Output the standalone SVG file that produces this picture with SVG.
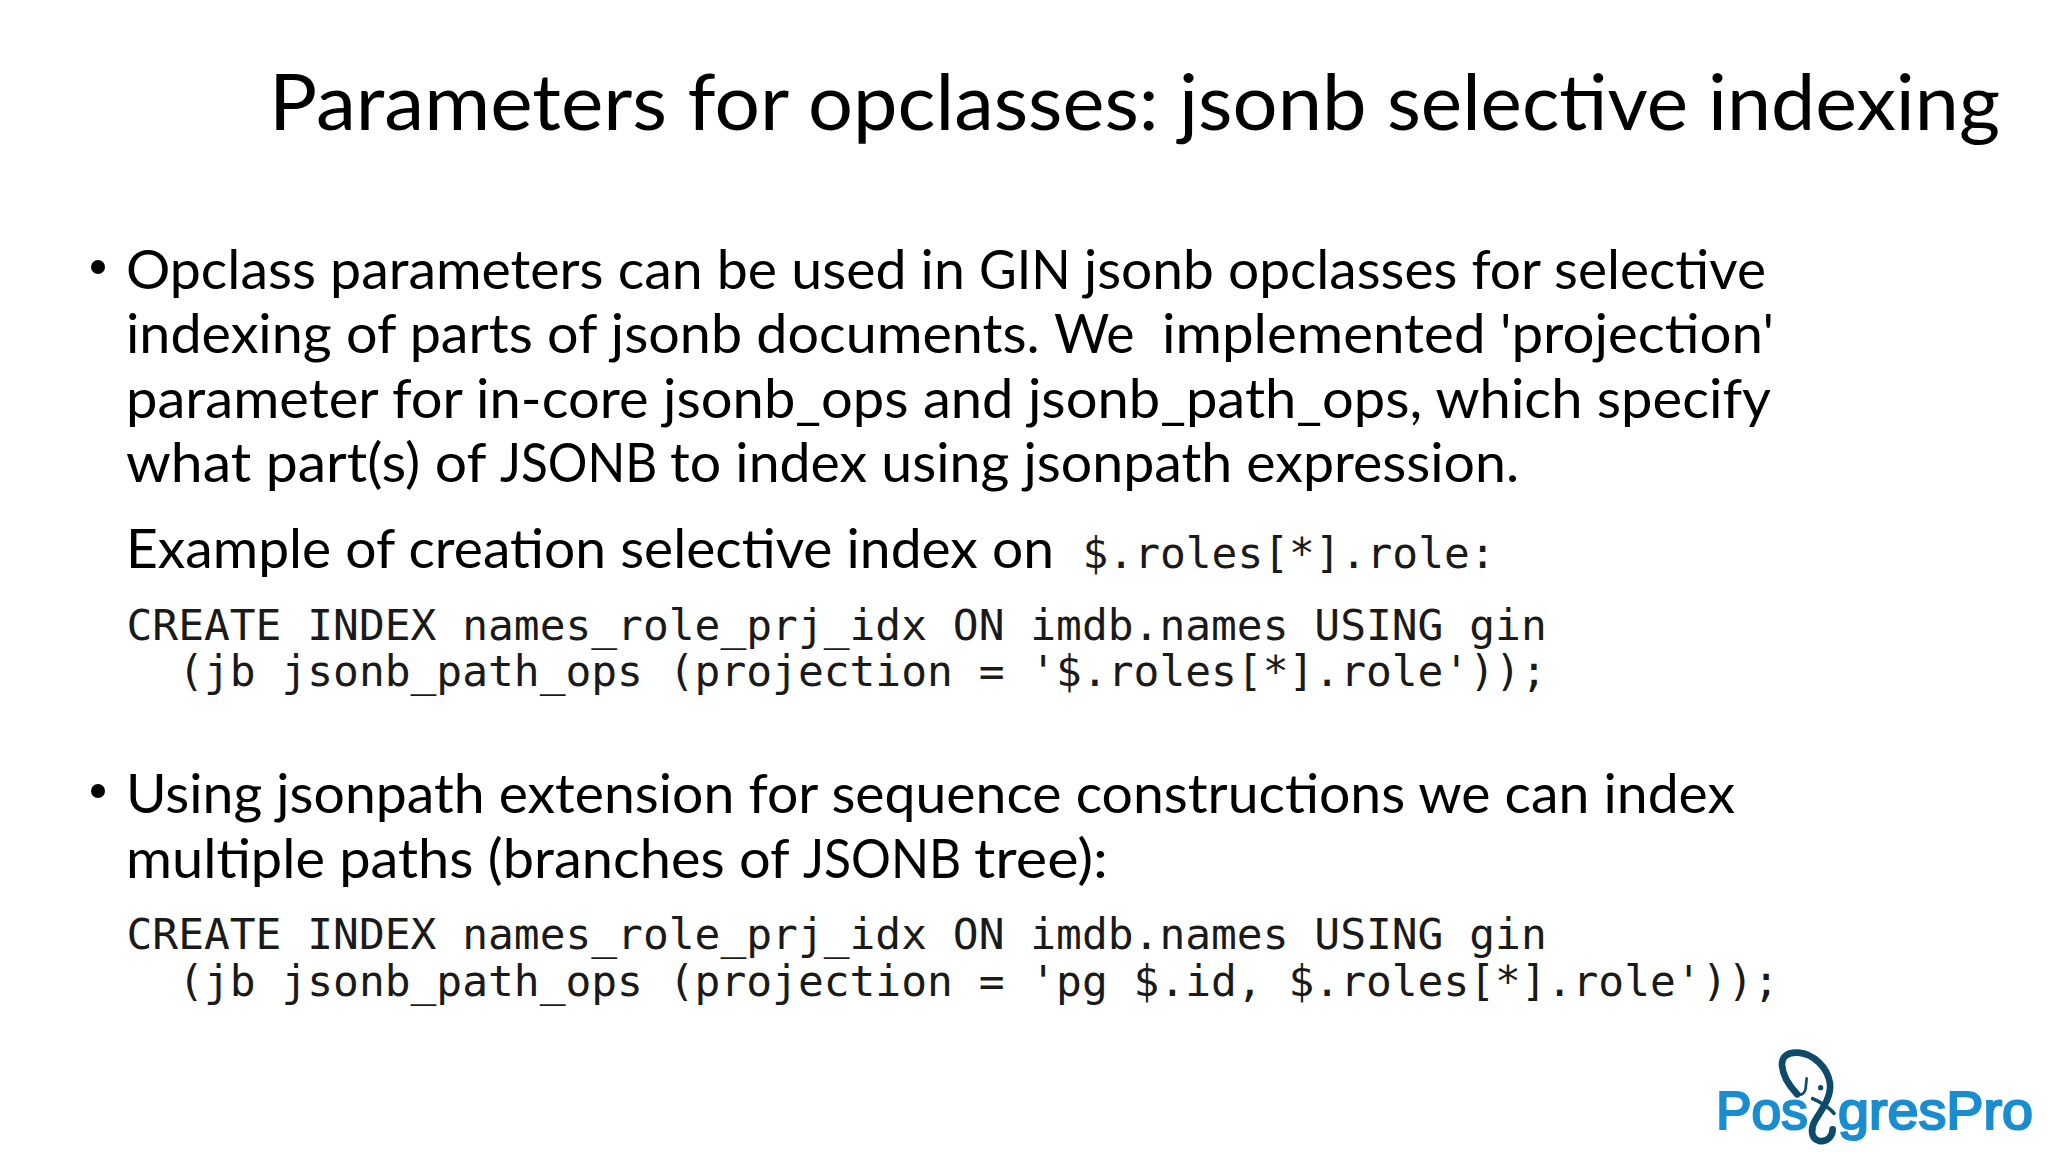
<svg xmlns="http://www.w3.org/2000/svg" width="2048" height="1152" viewBox="0 0 2048 1152">
<style>
.t{font-family:"Lato","Carlito","Liberation Sans",sans-serif;fill:#000;font-size:55px}
.h{font-size:77px}
.m{font-family:"DejaVu Sans Mono","Liberation Mono",monospace;fill:#1a1a1a;font-size:42.9px}
.lg{font-family:"Liberation Sans","Arial",sans-serif;fill:#1a8dd0;font-size:54px;stroke:#1a8dd0;stroke-width:2.2px}
</style>
<rect width="2048" height="1152" fill="#fff"/>
<text class="t h" y="130"><tspan x="269" textLength="539" lengthAdjust="spacingAndGlyphs">Parameters for </tspan><tspan x="808" textLength="371" lengthAdjust="spacingAndGlyphs">opclasses: </tspan><tspan x="1179" textLength="208" lengthAdjust="spacingAndGlyphs">jsonb </tspan><tspan x="1387" textLength="321" lengthAdjust="spacingAndGlyphs">selective </tspan><tspan x="1708" textLength="292" lengthAdjust="spacingAndGlyphs">indexing</tspan></text>
<circle cx="98" cy="267" r="7"/>
<text class="t" y="289"><tspan x="126" textLength="853" lengthAdjust="spacingAndGlyphs">Opclass parameters can be used in </tspan><tspan x="979" textLength="105" lengthAdjust="spacingAndGlyphs">GIN </tspan><tspan x="1084" textLength="682" lengthAdjust="spacingAndGlyphs">jsonb opclasses for selective</tspan></text>
<text class="t" y="353" xml:space="preserve"><tspan x="126" textLength="928" lengthAdjust="spacingAndGlyphs">indexing of parts of jsonb documents. </tspan><tspan x="1054" textLength="108" lengthAdjust="spacingAndGlyphs">We  </tspan><tspan x="1162" textLength="612" lengthAdjust="spacingAndGlyphs">implemented 'projection'</tspan></text>
<text class="t" x="126" y="418" textLength="1645" lengthAdjust="spacingAndGlyphs">parameter for in-core jsonb_ops and jsonb_path_ops, which specify</text>
<text class="t" y="482"><tspan x="126" textLength="374" lengthAdjust="spacingAndGlyphs">what part(s) of </tspan><tspan x="500" textLength="170" lengthAdjust="spacingAndGlyphs">JSONB </tspan><tspan x="670" textLength="849" lengthAdjust="spacingAndGlyphs">to index using jsonpath expression.</tspan></text>
<text class="t" x="126" y="568" textLength="928" lengthAdjust="spacingAndGlyphs">Example of creation selective index on</text>
<text class="m" x="1082.500" y="568">$.roles[*].role:</text>
<text class="m" x="126.500" y="640">CREATE INDEX names_role_prj_idx ON imdb.names USING gin</text>
<text class="m" x="126.500" y="686" xml:space="preserve">  (jb jsonb_path_ops (projection = '$.roles[*].role'));</text>
<circle cx="98" cy="791" r="7"/>
<text class="t" x="126" y="813" textLength="1609" lengthAdjust="spacingAndGlyphs">Using jsonpath extension for sequence constructions we can index</text>
<text class="t" y="878"><tspan x="126" textLength="677" lengthAdjust="spacingAndGlyphs">multiple paths (branches of </tspan><tspan x="803" textLength="171" lengthAdjust="spacingAndGlyphs">JSONB </tspan><tspan x="974" textLength="134" lengthAdjust="spacingAndGlyphs">tree):</tspan></text>
<text class="m" x="126.500" y="949">CREATE INDEX names_role_prj_idx ON imdb.names USING gin</text>
<text class="m" x="126.500" y="996" xml:space="preserve">  (jb jsonb_path_ops (projection = 'pg $.id, $.roles[*].role'));</text>
<g id="logo">
<text class="lg" x="1716" y="1129" textLength="92" lengthAdjust="spacingAndGlyphs">Pos</text>
<text class="lg" x="1838" y="1129" textLength="195" lengthAdjust="spacingAndGlyphs">gresPro</text>
<g transform="translate(1690 1030) scale(.3333)" fill="none" stroke="#0e4a6a" stroke-linecap="round" stroke-linejoin="round">
<path stroke-width="20" d="M322 193C300 170 278 140 276 105C275 78 295 66 325 68C370 72 412 110 420 160C425 200 395 240 375 272C362 295 362 325 385 332C410 338 428 320 428 298"/>
<path stroke-width="8" d="M322 193C335 197 345 190 347 175L350 145"/>
<path stroke-width="11" d="M368 206C390 215 420 235 432 250"/>
<circle cx="392" cy="173" r="8" fill="#0e4a6a" stroke="none"/>
</g>
</g>
</svg>
